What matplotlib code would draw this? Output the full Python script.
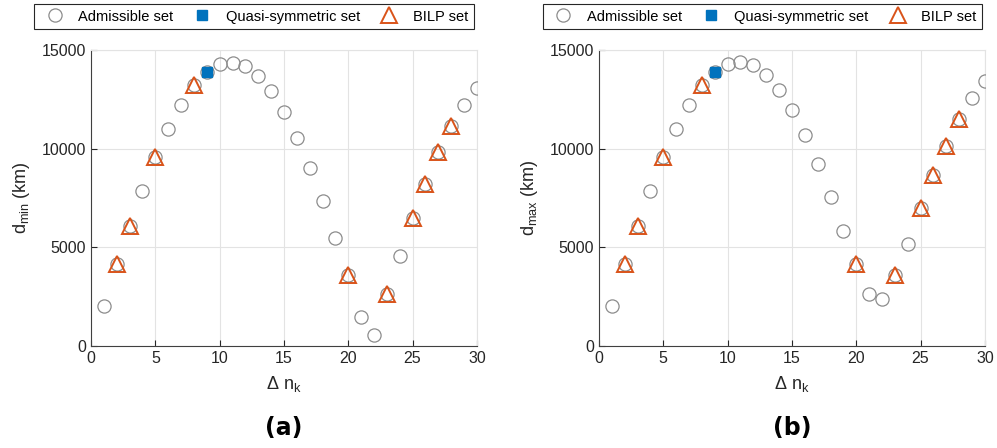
import numpy as np
import matplotlib.pyplot as plt

plt.rcParams['font.family'] = ['Liberation Sans', 'DejaVu Sans']
plt.rcParams['mathtext.fontset'] = 'custom'
plt.rcParams['mathtext.rm'] = 'Liberation Sans'
plt.rcParams['mathtext.it'] = 'Liberation Sans'

# delta n_k values
dn = np.arange(1, 31)

# minimum distance (km), panel (a)
d_min = [2050, 4170, 6100, 7870, 9570, 11000, 12220, 13250, 13880, 14270,
         14360, 14170, 13680, 12900, 11840, 10550, 9040, 7330, 5480, 3600,
         1490, 540, 2650, 4550, 6500, 8210, 9810, 11170, 12220, 13080]

# maximum distance (km), panel (b)
d_max = [2050, 4170, 6090, 7870, 9600, 11000, 12230, 13250, 13900, 14300,
         14390, 14220, 13750, 12960, 11950, 10670, 9200, 7570, 5840, 4170,
         2650, 2360, 3580, 5190, 7010, 8670, 10160, 11520, 12590, 13440]

bilp_idx = [2, 3, 5, 8, 20, 23, 25, 26, 27, 28]
quasi_idx = [9]

panels = [
    (d_min, r'd$_{\rm min}$ (km)', '(a)', 0.0913, 0.2548),
    (d_max, r'd$_{\rm max}$ (km)', '(b)', 0.6008, 0.7648),
]

fig = plt.figure(figsize=(9.97, 4.48), dpi=100)

for vals, ylab, tag, left, leg_x in panels:
    ax = fig.add_axes([left, 0.2277, 0.387, 0.6607])
    vals = np.array(vals)
    ax.plot(dn, vals, 'o', ls='none', ms=9.5, mfc='none', mec='#8c8c8c', mew=0.9,
            label='Admissible set', zorder=3)
    bi = np.array(bilp_idx) - 1
    qi = np.array(quasi_idx) - 1
    ax.plot(dn[qi], vals[qi], 's', ls='none', ms=7, mfc='#0072BD', mec='#0072BD',
            label='Quasi-symmetric set', zorder=5)
    ax.plot(dn[bi], vals[bi], '^', ls='none', ms=11.5, mfc='none', mec='#D95319', mew=1.4,
            label='BILP set', zorder=4)

    ax.set_xlim(0, 30)
    ax.set_ylim(0, 15000)
    ax.set_xticks([0, 5, 10, 15, 20, 25, 30])
    ax.set_yticks([0, 5000, 10000, 15000])
    ax.grid(True, color='#e3e3e3', lw=0.8)
    ax.set_axisbelow(True)
    for s in ['top', 'right']:
        ax.spines[s].set_color('#e3e3e3')
    for s in ['left', 'bottom']:
        ax.spines[s].set_color('#404040')
    ax.tick_params(direction='in', length=4, labelsize=11.5, colors='#262626',
                   top=False, right=False)
    ax.set_xlabel(r'$\Delta$ n$_{\rm k}$', fontsize=13, color='#262626', labelpad=6)
    ax.set_ylabel(ylab, fontsize=13, color='#262626', labelpad=7)

    fig.text(left + 0.387 / 2, 0.045, tag, ha='center', va='center',
             fontsize=17, fontweight='bold', family=['DejaVu Sans'])

    leg = fig.legend(handles=ax.get_lines(), loc='center',
                     bbox_to_anchor=(leg_x, 0.963),
                     ncol=3, fontsize=10.5, frameon=True, fancybox=False,
                     edgecolor='#262626', framealpha=1, handlelength=2.0,
                     columnspacing=1.0, handletextpad=0.6, borderpad=0.4)
    leg.get_frame().set_linewidth(0.8)

fig.savefig('out.png', dpi=100)
